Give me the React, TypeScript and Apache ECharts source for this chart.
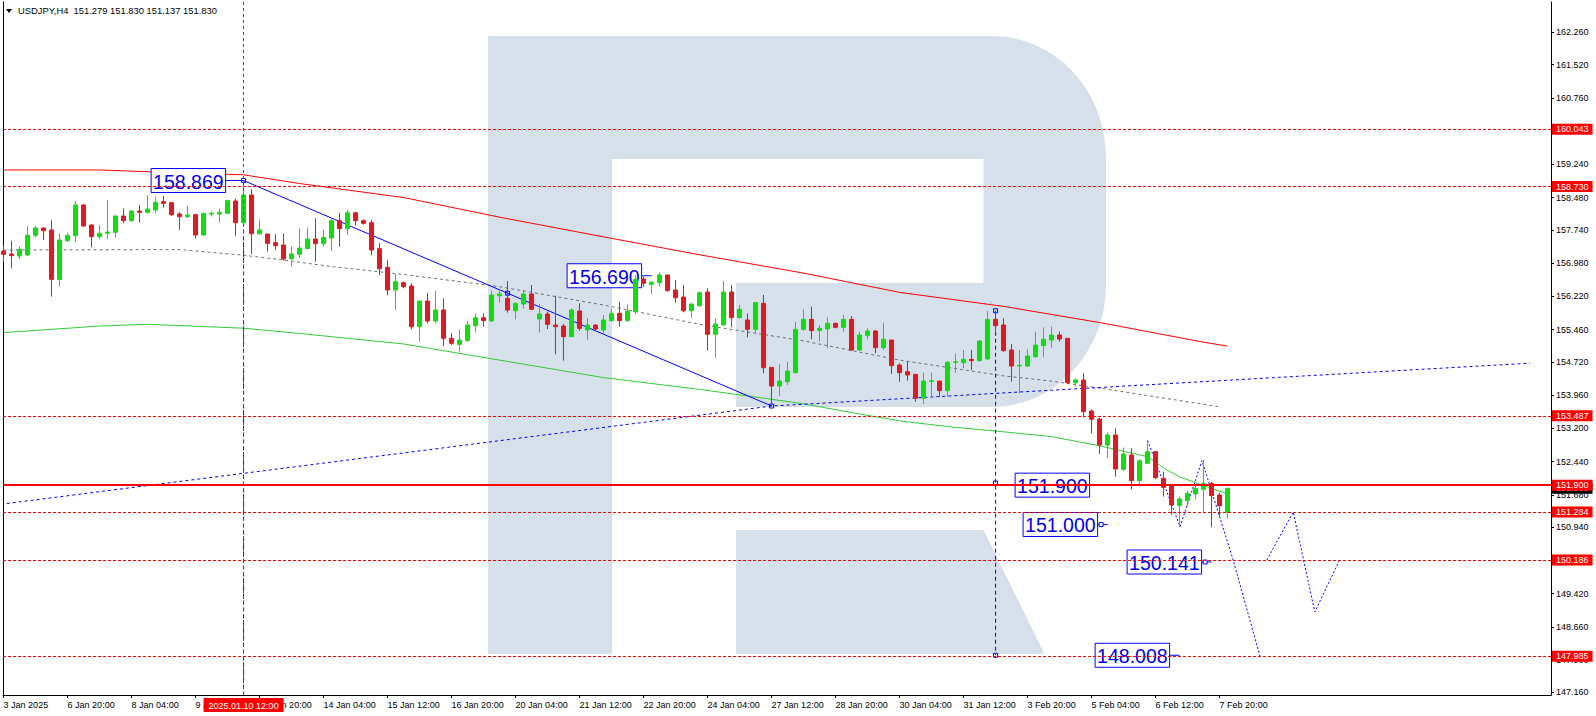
import React, { useEffect, useRef } from 'react';
import * as echarts from 'echarts';

const FONT = '"Liberation Sans", Arial, sans-serif';

// Chart title (symbol, timeframe, last bar O H L C)
const titleText = 'USDJPY,H4  151.279 151.830 151.137 151.830';

// H4 candles: [open, high, low, close], bar index 0 = 3 Jan 2025 12:00
const ohlc: number[][] = [
  [157.256, 157.394, 157.012, 157.180], [157.188, 157.493, 156.860, 157.150], [157.142, 157.355, 157.066, 157.294],
  [157.165, 157.828, 157.142, 157.615], [157.615, 157.828, 157.569, 157.782], [157.782, 157.798, 157.508, 157.721],
  [157.737, 157.966, 156.212, 156.608], [156.608, 157.660, 156.440, 157.508], [157.493, 157.676, 157.462, 157.615],
  [157.607, 158.408, 157.447, 158.309], [158.309, 158.324, 157.813, 157.828], [157.851, 157.866, 157.340, 157.584],
  [157.584, 157.851, 157.523, 157.660], [157.660, 158.423, 157.523, 157.691], [157.683, 158.072, 157.561, 158.057],
  [158.057, 158.232, 157.889, 157.950], [157.950, 158.187, 157.920, 158.171], [158.171, 158.309, 157.905, 158.141],
  [158.141, 158.537, 158.118, 158.217], [158.194, 158.499, 158.118, 158.370], [158.385, 158.515, 158.248, 158.347],
  [158.362, 158.385, 158.057, 158.088], [158.103, 158.149, 157.737, 158.042], [158.042, 158.286, 158.004, 158.080],
  [158.088, 158.095, 157.546, 157.622], [157.622, 158.133, 157.607, 158.118], [158.103, 158.156, 158.042, 158.118],
  [158.103, 158.225, 157.905, 158.141], [158.118, 158.423, 158.103, 158.408], [158.400, 158.454, 157.599, 157.905],
  [157.905, 158.869, 157.851, 158.537], [158.537, 158.667, 157.188, 157.653], [157.653, 157.981, 157.630, 157.737],
  [157.645, 157.645, 157.241, 157.432], [157.447, 157.645, 157.279, 157.378], [157.394, 157.660, 157.035, 157.073],
  [157.081, 157.355, 156.898, 157.188], [157.180, 157.775, 157.096, 157.325], [157.310, 157.798, 157.302, 157.531],
  [157.531, 158.004, 157.012, 157.424], [157.424, 157.737, 157.355, 157.569], [157.554, 158.004, 157.256, 157.950],
  [157.950, 158.133, 157.355, 157.767], [157.767, 158.194, 157.622, 158.133], [158.133, 158.133, 157.844, 157.950],
  [157.950, 157.981, 157.859, 157.889], [157.905, 157.966, 157.157, 157.279], [157.310, 157.432, 156.707, 156.852],
  [156.883, 157.050, 156.242, 156.364], [156.364, 156.730, 155.907, 156.555], [156.532, 156.555, 156.402, 156.440],
  [156.456, 156.517, 155.464, 155.525], [155.525, 156.112, 155.182, 156.112], [156.112, 156.303, 155.601, 155.655],
  [155.655, 156.341, 155.601, 155.907], [155.907, 156.173, 155.083, 155.258], [155.258, 155.373, 155.106, 155.144],
  [155.121, 155.464, 154.953, 155.220], [155.205, 155.662, 155.182, 155.563], [155.548, 155.830, 155.388, 155.731],
  [155.731, 155.830, 155.525, 155.662], [155.655, 156.349, 155.640, 156.250], [156.234, 156.379, 156.074, 156.273],
  [156.173, 156.570, 155.845, 155.907], [155.891, 156.074, 155.693, 156.059], [156.044, 156.364, 155.937, 156.273],
  [156.273, 156.478, 155.922, 155.922], [155.701, 156.044, 155.388, 155.815], [155.815, 155.868, 155.472, 155.579],
  [155.563, 156.234, 154.892, 155.525], [155.540, 155.586, 154.748, 155.296], [155.296, 155.945, 155.296, 155.907],
  [155.884, 156.059, 155.434, 155.487], [155.449, 155.716, 155.220, 155.563], [155.563, 155.586, 155.449, 155.472],
  [155.449, 155.792, 155.350, 155.678], [155.663, 155.945, 155.640, 155.830], [155.830, 156.097, 155.525, 155.663],
  [155.663, 156.036, 155.640, 155.884], [155.868, 156.700, 155.807, 156.608], [156.616, 156.669, 156.440, 156.517],
  [156.494, 156.570, 156.265, 156.540], [156.532, 156.761, 156.440, 156.707], [156.707, 156.723, 156.326, 156.349],
  [156.364, 156.593, 156.074, 156.189], [156.204, 156.478, 155.853, 155.891], [155.891, 156.059, 155.731, 156.044],
  [156.006, 156.326, 155.983, 156.303], [156.318, 156.402, 154.976, 155.350], [155.350, 155.716, 154.816, 155.586],
  [155.563, 156.570, 155.563, 156.318], [156.318, 156.478, 155.510, 155.731], [155.731, 156.021, 155.716, 155.922],
  [155.678, 155.830, 155.281, 155.464], [155.464, 156.097, 155.388, 156.074], [156.059, 156.250, 154.458, 154.587],
  [154.595, 154.595, 153.710, 154.168], [154.168, 154.671, 153.939, 154.282], [154.267, 154.725, 154.191, 154.511],
  [154.473, 155.640, 154.458, 155.464], [155.464, 155.922, 155.434, 155.693], [155.693, 155.983, 155.236, 155.434],
  [155.434, 155.564, 155.182, 155.487], [155.472, 155.739, 155.030, 155.602], [155.602, 155.617, 155.487, 155.510],
  [155.510, 155.792, 155.411, 155.693], [155.693, 155.769, 154.976, 154.992], [154.992, 155.411, 154.976, 155.335],
  [155.320, 155.487, 155.236, 155.426], [155.426, 155.449, 154.915, 155.045], [155.045, 155.617, 154.992, 155.236],
  [155.220, 155.220, 154.443, 154.633], [154.648, 154.687, 154.267, 154.473], [154.496, 154.725, 154.290, 154.420],
  [154.435, 154.435, 153.810, 153.886], [153.886, 154.473, 153.756, 154.282], [154.275, 154.473, 153.886, 154.290],
  [154.282, 154.282, 153.924, 154.061], [154.061, 154.740, 153.924, 154.709], [154.709, 154.915, 154.473, 154.725],
  [154.702, 154.992, 154.572, 154.778], [154.778, 154.992, 154.534, 154.748], [154.748, 155.220, 154.725, 155.197],
  [154.786, 155.884, 154.763, 155.693], [155.693, 155.869, 155.411, 155.548], [155.564, 155.716, 154.953, 154.976],
  [154.992, 155.129, 154.267, 154.626], [154.626, 154.992, 154.000, 154.641], [154.626, 155.007, 154.610, 154.854],
  [154.839, 155.411, 154.816, 155.106], [155.091, 155.510, 154.824, 155.236], [155.220, 155.525, 155.045, 155.335],
  [155.335, 155.411, 155.182, 155.243], [155.259, 155.259, 154.214, 154.244], [154.244, 154.343, 154.153, 154.305],
  [154.305, 154.458, 153.451, 153.581], [153.596, 153.634, 153.085, 153.405], [153.413, 153.443, 152.612, 152.818],
  [152.818, 153.100, 152.528, 153.047], [153.047, 153.199, 152.094, 152.269], [152.261, 152.765, 152.231, 152.612],
  [152.589, 152.742, 151.804, 152.002], [152.002, 152.490, 151.903, 152.460], [152.399, 152.933, 152.384, 152.666],
  [152.666, 152.666, 152.033, 152.071], [152.056, 152.208, 151.636, 151.850], [151.903, 151.903, 151.217, 151.446],
  [151.430, 151.636, 150.950, 151.583], [151.545, 151.773, 151.423, 151.712], [151.697, 151.903, 151.575, 151.827],
  [151.804, 152.475, 151.270, 151.941], [151.941, 151.979, 150.935, 151.659], [151.674, 151.728, 151.179, 151.430],
  [151.279, 151.830, 151.137, 151.830],
];

// Time axis labels (bar index -> text)
const xTickIdx = [0, 8, 16, 24, 32, 40, 48, 56, 64, 72, 80, 88, 96, 104, 112, 120, 128, 136, 144, 152];
const xTickLabels = [
  '3 Jan 2025', '6 Jan 20:00', '8 Jan 04:00', '9 Jan 12:00', '10 Jan 20:00', '14 Jan 04:00', '15 Jan 12:00',
  '16 Jan 20:00', '20 Jan 04:00', '21 Jan 12:00', '22 Jan 20:00', '24 Jan 04:00', '27 Jan 12:00', '28 Jan 20:00',
  '30 Jan 04:00', '31 Jan 12:00', '3 Feb 20:00', '5 Feb 04:00', '6 Feb 12:00', '7 Feb 20:00',
];

// Price axis labels
const yTicks = [
  162.26, 161.52, 160.76, 160.0, 159.24, 158.48, 157.74, 156.98, 156.22, 155.46, 154.72,
  153.96, 153.2, 152.44, 151.68, 150.94, 150.18, 149.42, 148.66, 147.9, 147.16,
];

// Moving averages [bar index, price]
const redMa = [
  [0, 159.11], [12, 159.11], [24, 159.03], [30, 159.0], [37, 158.8], [50, 158.48], [62, 158.03], [75, 157.58],
  [87, 157.17], [100, 156.75], [112, 156.31], [125, 155.99], [137, 155.62], [150, 155.17], [153, 155.08],
];
const greenMa = [
  [0, 155.39], [12, 155.54], [18, 155.58], [30, 155.49], [37, 155.37], [50, 155.13], [62, 154.76], [75, 154.36],
  [87, 154.09], [95, 153.89], [100, 153.76], [106, 153.56], [112, 153.37], [118, 153.24], [125, 153.12],
  [131, 153.01], [137, 152.8], [143, 152.55], [145, 152.29], [147, 152.09], [150, 151.89], [153, 151.7],
];
const greyMa = [
  [0, 157.28], [22, 157.29], [30, 157.16], [35, 157.05], [41, 156.9], [50, 156.72], [62, 156.44], [75, 156.02],
  [87, 155.58], [100, 155.2], [112, 154.76], [125, 154.4], [131, 154.28], [137, 154.12], [150, 153.75], [152, 153.69],
];

// Drawn objects [bar index, price]
const trendSolid = [[30, 158.869], [96, 153.71]];
const trendDotted = [[0.4, 151.48], [96, 153.71], [190.8, 154.69]];
const vLineHigh = [[30, 158.869], [30, 147.099]];
const vLineTarget = [[124, 155.89], [124, 148.008]];
const forecastA = [[143, 152.92], [147.05, 150.95], [149.8, 152.46], [153.7, 150.186], [157.05, 147.985]];
const forecastB = [[157.9, 150.186], [161.2, 151.284], [163.9, 149.0], [167, 150.186]];
const handles = [[30, 158.869], [63, 156.29], [96, 153.71], [124, 155.89], [124, 151.95], [124, 148.008]];

// Horizontal levels
const dashedLevels = [160.043, 158.73, 153.487, 151.284, 150.186, 147.985];
const solidLevel = 151.9;
const bidPrice = 151.83;
const crosshairIdx = 30;
const crosshairLabel = '2025.01.10 12:00';

// Price tags
const tagTexts = ['158.869', '156.690', '151.900', '151.000', '150.141', '148.008'];
const tagAnchors = [[30, 158.869], [81, 156.69], [137, 151.9], [138, 151.0], [151, 150.141], [147, 148.008]];
const tagGaps = [18, 10, 10, 10, 10, 10];
const tagSquares = ['anchor', 'none', 'none', 'box', 'box', 'none'];

const X_MIN = -0.075;
const X_MAX = 193.425;
const Y_MIN = 147.099;
const Y_MAX = 162.953;

const GREEN = '#14dc14';
const RED = '#dc1b24';
const BLUE = '#0000ff';

const LOGO_D =
  'M488 36H612V654H488Z M612 36H992C1055 36 1106 90 1106 157V285C1106 352 1055 407 992 407H736V283H983.5V159H612Z M736 530H983.5L1044.5 654H736Z';
echarts.graphic.registerShape('logo', echarts.graphic.extendPath(LOGO_D, {}) as any);

const labelMap = new Map<number, string>();
xTickIdx.forEach((v, k) => labelMap.set(v, xTickLabels[k]));

function lineSeries(data: number[][], color: string, type: any, z = 1, width = 1) {
  return {
    type: 'line',
    data,
    symbol: 'none',
    showSymbol: false,
    silent: true,
    z,
    lineStyle: { color, type, width },
  };
}

export default function App() {
  const ref = useRef<HTMLDivElement>(null);
  useEffect(() => {
    const chart = echarts.init(ref.current!, null, { renderer: 'svg' });
    const axisLineStyle = { color: '#000', width: 1 };
    const option: any = {
      animation: false,
      title: {
        text: titleText,
        left: 18,
        top: 6,
        padding: 0,
        textStyle: { fontSize: 9.4, fontWeight: 'normal', color: '#000', fontFamily: FONT },
      },
      grid: { left: 3, right: 45, top: 2, bottom: 21 },
      xAxis: {
        type: 'value',
        min: X_MIN,
        max: X_MAX,
        axisLine: { show: true, onZero: false, lineStyle: axisLineStyle },
        axisTick: { show: true, customValues: xTickIdx, length: 3, lineStyle: axisLineStyle },
        axisLabel: {
          customValues: xTickIdx,
          formatter: (v: number) => labelMap.get(Math.round(v)) ?? '',
          align: 'left',
          margin: 5,
          fontSize: 9,
          color: '#000',
          fontFamily: FONT,
        },
        splitLine: { show: false },
      },
      yAxis: [
        {
          type: 'value',
          position: 'right',
          min: Y_MIN,
          max: Y_MAX,
          axisLine: { show: true, onZero: false, lineStyle: axisLineStyle },
          axisTick: { show: true, customValues: yTicks, length: 3, lineStyle: axisLineStyle },
          axisLabel: {
            customValues: yTicks,
            formatter: (v: number) => v.toFixed(3),
            margin: 5,
            fontSize: 9,
            color: '#000',
            fontFamily: FONT,
          },
          splitLine: { show: false },
        },
        {
          type: 'value',
          position: 'left',
          min: Y_MIN,
          max: Y_MAX,
          axisLine: { show: true, onZero: false, lineStyle: axisLineStyle },
          axisTick: { show: false },
          axisLabel: { show: false },
          splitLine: { show: false },
        },
      ],
      series: [
        lineSeries(redMa, '#ff0000', 'solid'),
        lineSeries(greenMa, '#32cd32', 'solid'),
        lineSeries(greyMa, '#707070', [3, 3]),
        lineSeries(trendSolid, BLUE, 'solid'),
        lineSeries(trendDotted, BLUE, [3, 3]),
        lineSeries(vLineHigh, BLUE, [4, 3]),
        lineSeries(vLineTarget, BLUE, [4, 3]),
        lineSeries(forecastA, BLUE, [2, 2]),
        lineSeries(forecastB, BLUE, [2, 2]),
        {
          type: 'line',
          data: [],
          silent: true,
          z: 1,
          clip: false,
          markLine: {
            symbol: 'none',
            silent: true,
            animation: false,
            precision: 3,
            lineStyle: { color: '#ff0000', type: [3, 2], width: 1 },
            label: {
              show: true,
              position: 'end',
              distance: 1,
              color: '#fff',
              backgroundColor: '#ff0000',
              padding: [1, 4, 1, 4],
              fontSize: 9,
              lineHeight: 9,
              fontFamily: FONT,
            },
            data: [
              {
                yAxis: bidPrice,
                lineStyle: { color: 'rgba(0,0,0,0)', width: 0 },
                label: { backgroundColor: '#000', formatter: bidPrice.toFixed(3) },
              },
              ...dashedLevels.map((v) => ({ yAxis: v, label: { formatter: v.toFixed(3) } })),
              { yAxis: solidLevel, lineStyle: { type: 'solid', width: 2 }, label: { formatter: solidLevel.toFixed(3) } },
              {
                xAxis: crosshairIdx,
                lineStyle: { type: [3, 3], width: 1 },
                label: {
                  position: 'start',
                  formatter: crosshairLabel,
                  padding: [3, 5, 2, 5],
                  distance: 3,
                },
              },
            ],
          },
        },
        {
          type: 'candlestick',
          data: ohlc.map(([o, h, l, c], i) => [i, o, c, l, h]),
          barWidth: 4,
          z: 3,
          silent: true,
          itemStyle: {
            color: GREEN,
            color0: RED,
            borderColor: GREEN,
            borderColor0: RED,
            borderWidth: 1,
          },
        },
      ],
    };
    chart.setOption(option);

    const toPx = (i: number, p: number) =>
      chart.convertToPixel({ xAxisIndex: 0, yAxisIndex: 0 }, [i, p]) as number[];

    const elements: any[] = [
      { type: 'logo', x: 0, y: 0, z: 0, silent: true, style: { fill: '#d6e0eb' } },
      { type: 'polygon', z: 5, silent: true, shape: { points: [[6, 9], [12, 9], [9, 13]] }, style: { fill: '#000' } },
    ];
    const W = 74.5;
    const H = 24;
    tagTexts.forEach((t, k) => {
      const [ax, ay] = toPx(tagAnchors[k][0], tagAnchors[k][1]);
      const right = ax - tagGaps[k];
      const left = right - W;
      elements.push({
        type: 'line',
        z: 2,
        silent: true,
        shape: { x1: right, y1: ay, x2: ax, y2: ay },
        style: { stroke: BLUE, lineWidth: 1 },
      });
      elements.push({
        type: 'rect',
        z: 2,
        silent: true,
        shape: { x: left, y: ay - H / 2, width: W, height: H },
        style: { fill: '#fff', stroke: BLUE, lineWidth: 1 },
      });
      elements.push({
        type: 'text',
        z: 2,
        silent: true,
        x: left + W / 2,
        y: ay + 1,
        style: {
          text: t,
          fill: '#0000e8',
          font: '19.5px "Liberation Sans", Arial, sans-serif',
          align: 'center',
          verticalAlign: 'middle',
          textAlign: 'center',
          textVerticalAlign: 'middle',
        },
      });
      if (tagSquares[k] === 'box') {
        elements.push({
          type: 'rect',
          z: 2,
          silent: true,
          shape: { x: right + 1.5, y: ay - 2, width: 4, height: 4 },
          style: { fill: '#fff', stroke: BLUE, lineWidth: 1 },
        });
      }
    });
    handles.forEach(([i, p]) => {
      const [x, y] = toPx(i, p);
      elements.push({
        type: 'rect',
        z: 2,
        silent: true,
        shape: { x: x - 2, y: y - 2, width: 4, height: 4 },
        style: { fill: 'none', stroke: BLUE, lineWidth: 1 },
      });
    });
    chart.setOption({ graphic: { elements } });

    return () => chart.dispose();
  }, []);
  return <div ref={ref} style={{ position: 'absolute', left: 0, top: 0, width: 1596, height: 716 }} />;
}
